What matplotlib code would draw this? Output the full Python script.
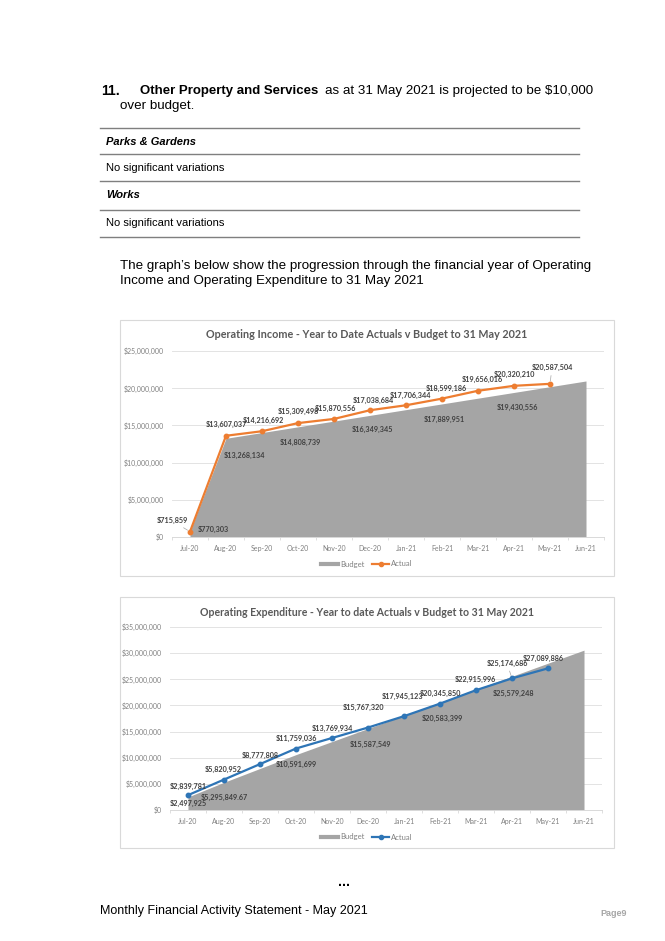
import matplotlib
matplotlib.use("Agg")
import matplotlib.pyplot as plt
from matplotlib.lines import Line2D
from matplotlib.patches import Rectangle

# ---------------- data ----------------
months = ["Jul-20", "Aug-20", "Sep-20", "Oct-20", "Nov-20", "Dec-20",
          "Jan-21", "Feb-21", "Mar-21", "Apr-21", "May-21", "Jun-21"]

inc_budget = [770303, 13268134, 14038437, 14808739, 15579042, 16349345,
              17119648, 17889951, 18660253, 19430556, 20200859, 20971162]
inc_actual = [715859, 13607037, 14216692, 15309498, 15870556, 17038684,
              17706344, 18599186, 19656016, 20320210, 20587504]
inc_budget_labels = {0: "$770,303", 1: "$13,268,134", 3: "$14,808,739",
                     5: "$16,349,345", 7: "$17,889,951", 9: "$19,430,556"}
inc_actual_labels = ["$715,859", "$13,607,037", "$14,216,692", "$15,309,498",
                     "$15,870,556", "$17,038,684", "$17,706,344", "$18,599,186",
                     "$19,656,016", "$20,320,210", "$20,587,504"]

exp_budget = [2497925, 5295849.67, 7943774, 10591699, 13089624, 15587549,
              18085474, 20583399, 23081324, 25579248, 28077173, 30575098]
exp_actual = [2839781, 5820952, 8777808, 11759036, 13769934, 15767320,
              17945123, 20345850, 22915996, 25174686, 27089886]
exp_budget_labels = {0: "$2,497,925", 1: "$5,295,849.67", 3: "$10,591,699",
                     5: "$15,587,549", 7: "$20,583,399", 9: "$25,579,248"}
exp_actual_labels = ["$2,839,781", "$5,820,952", "$8,777,808", "$11,759,036",
                     "$13,769,934", "$15,767,320", "$17,945,123", "$20,345,850",
                     "$22,915,996", "$25,174,686", "$27,089,886"]

# label offsets in pixels (dx, dy up-positive)
inc_act_off = [(-18, 11), (0, 11), (1, 11), (0, 12), (1, 10), (3, 10),
               (4, 10), (4, 10), (4, 11), (0, 11), (2, 16)]
inc_bud_off = {0: (23, 2), 1: (18, -17), 3: (2, -16), 5: (2, -14),
               7: (2, -16), 9: (3, -15)}
exp_act_off = [(0, 9), (-1, 10), (0, 9), (0, 10), (0, 10), (-5, 20),
               (-1, 20), (0, 10), (-1, 11), (-5, 15), (-5, 10)]
exp_bud_off = {0: (0, -7), 1: (0, -15), 3: (0, -10), 5: (2, -16),
               7: (2, -16), 9: (1, -17)}
leaders_inc = {0, 10}
leaders_exp = {9}

W, H = 665, 941
fig = plt.figure(figsize=(W / 100, H / 100), dpi=100)
fig.patch.set_facecolor("white")

BODY = "Liberation Sans"
CH = "Lato"


def fx(px):
    return px / W


def fy(py):
    return 1 - py / H


def ftext(x, y, s, **kw):
    kw.setdefault("family", BODY)
    kw.setdefault("va", "center")
    kw.setdefault("color", "black")
    fig.text(fx(x), fy(y), s, **kw)


# ---------------- page text ----------------
ftext(101, 91, "11.", fontsize=10, weight="bold")
ftext(140, 91, "Other Property and Services", fontsize=9.5, weight="bold")
ftext(325, 91, "as at 31 May 2021 is projected to be $10,000", fontsize=9.6)
ftext(120, 106, "over budget.", fontsize=9.6)

for yy in [128, 154, 181, 210, 237]:
    fig.add_artist(Line2D([fx(100), fx(579)], [fy(yy), fy(yy)],
                          color="#7f7f7f", lw=1.0))
ftext(106, 142, "Parks & Gardens", fontsize=8, weight="bold", style="italic")
ftext(106, 168, "No significant variations", fontsize=8)
ftext(106, 195, "Works", fontsize=8, weight="bold", style="italic")
ftext(106, 223, "No significant variations", fontsize=8)

ftext(120, 266, "The graph\u2019s below show the progression through the financial year of Operating",
      fontsize=9.6)
ftext(120, 281, "Income and Operating Expenditure to 31 May 2021", fontsize=9.6)

ftext(344, 882, "...", fontsize=10, weight="bold", ha="center")
ftext(100, 911, "Monthly Financial Activity Statement - May 2021", fontsize=9)
ftext(614, 914, "Page9", fontsize=6.5, weight="bold", color="#a6a6a6", ha="center")


# ---------------- charts ----------------
def make_chart(box, plot, title, title_y, title_size, legend_y, budget, actual,
               bud_labels, act_labels, bud_off, act_off, leaders,
               ymax, color):
    bx0, by0, bx1, by1 = box
    fig.add_artist(Rectangle((fx(bx0), fy(by1)), fx(bx1 - bx0), (by1 - by0) / H,
                             transform=fig.transFigure, facecolor="white",
                             edgecolor="#d9d9d9", lw=0.8, zorder=0))
    px0, py0, px1, py1 = plot
    ax = fig.add_axes([fx(px0), fy(py1), fx(px1 - px0), (py1 - py0) / H])
    ax.set_facecolor("none")
    x = list(range(len(budget)))
    ax.fill_between(x, 0, budget, color="#a5a5a5", lw=0, zorder=2)
    xa = list(range(len(actual)))
    ax.plot(xa, actual, color=color, lw=1.6, marker="o", markersize=3.2,
            zorder=4)
    ax.set_xlim(-0.5, len(budget) - 0.5)
    ax.set_ylim(0, ymax)
    ax.set_yticks(range(0, ymax + 1, 5000000))
    ax.set_yticklabels(["$0"] + ["${:,}".format(v) for v in range(5000000, ymax + 1, 5000000)])
    ax.set_xticks(x)
    ax.set_xticklabels(months)
    ax.set_xticks([i + 0.5 for i in range(-1, len(budget))], minor=True)
    ax.tick_params(axis="both", which="major", length=0, labelsize=5,
                   labelcolor="#808080", pad=6)
    ax.tick_params(axis="x", which="minor", length=2.5, color="#d9d9d9",
                   width=0.6)
    for lab in ax.get_xticklabels() + ax.get_yticklabels():
        lab.set_family(CH)
    ax.grid(axis="y", color="#e3e3e3", lw=0.7, zorder=1)
    ax.set_axisbelow(True)
    for s in ["top", "right", "left"]:
        ax.spines[s].set_visible(False)
    ax.spines["bottom"].set_color("#d9d9d9")
    ax.spines["bottom"].set_linewidth(0.7)

    for i, lab in enumerate(act_labels):
        dx, dy = act_off[i]
        kw = {}
        if i in leaders:
            kw["arrowprops"] = dict(arrowstyle="-", color="#a6a6a6", lw=0.5,
                                    shrinkA=1, shrinkB=2)
        ax.annotate(lab, (i, actual[i]), xytext=(dx, dy),
                    textcoords="offset pixels", ha="center", va="center",
                    fontsize=5.2, color="#404040", family=CH, weight="bold",
                    zorder=6, **kw)
    for i, lab in bud_labels.items():
        dx, dy = bud_off[i]
        ax.annotate(lab, (i, budget[i]), xytext=(dx, dy),
                    textcoords="offset pixels", ha="center", va="center",
                    fontsize=5.2, color="#404040", family=CH, weight="bold",
                    zorder=6)

    cx = (bx0 + bx1) / 2
    fig.text(fx(cx), fy(title_y), title, ha="center", va="center",
             fontsize=title_size, weight="bold", color="#595959", family=CH)
    handles = [Line2D([], [], color="#a5a5a5", lw=3),
               Line2D([], [], color=color, lw=1.6, marker="o", markersize=3)]
    fig.legend(handles, ["Budget", "Actual"], loc="center",
               bbox_to_anchor=(fx(cx), fy(legend_y)), ncol=2, frameon=False,
               prop={"family": CH, "size": 5.5}, labelcolor="#808080",
               handlelength=2.2, columnspacing=1.0, handletextpad=0.3)
    return ax


make_chart((120, 320, 614, 576), (172, 351, 604, 537),
           "Operating Income - Year to Date Actuals v Budget to 31 May 2021",
           334, 7.75, 564, inc_budget, inc_actual, inc_budget_labels,
           inc_actual_labels, inc_bud_off, inc_act_off, leaders_inc,
           25000000, "#ed7d31")

make_chart((120, 597, 614, 848), (170, 627, 602, 810),
           "Operating Expenditure - Year to date Actuals v Budget to 31 May 2021",
           612, 7.6, 837, exp_budget, exp_actual, exp_budget_labels,
           exp_actual_labels, exp_bud_off, exp_act_off, leaders_exp,
           35000000, "#2e75b6")

fig.savefig("out.png", dpi=100)
